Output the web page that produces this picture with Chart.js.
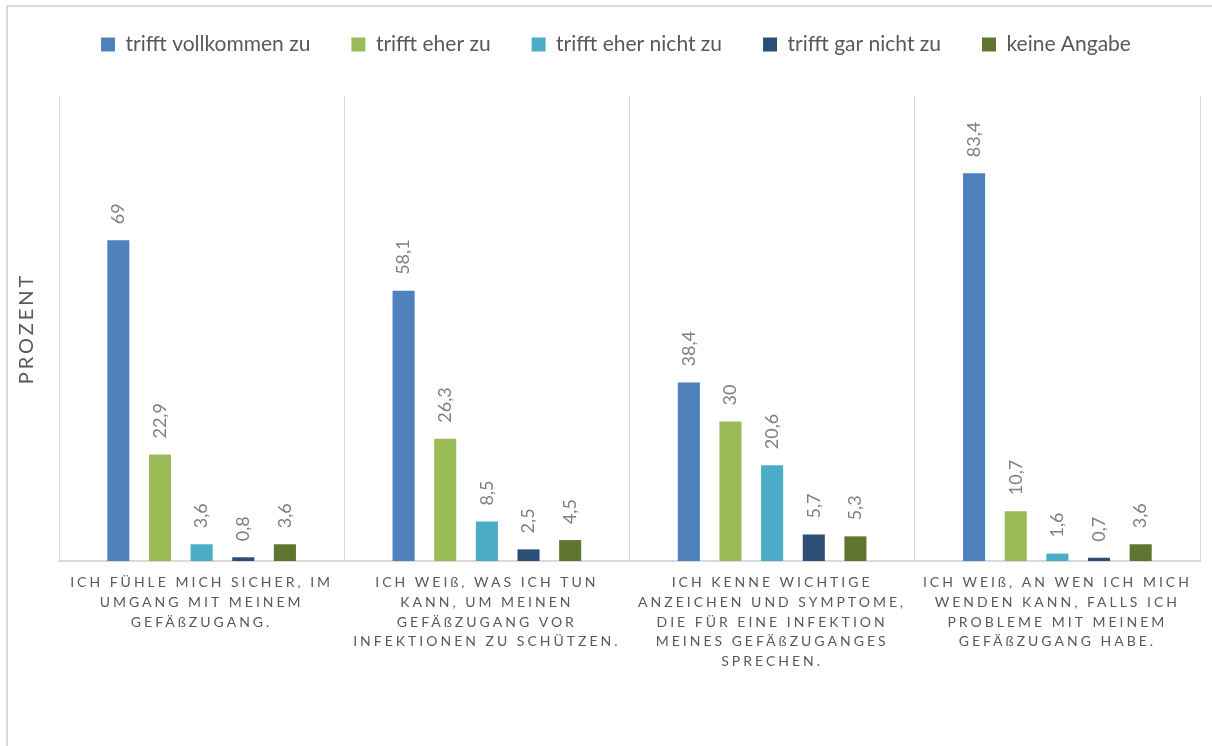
<!DOCTYPE html>
<html>
<head>
<meta charset="utf-8">
<script src="https://cdn.jsdelivr.net/npm/chart.js@4.4.1/dist/chart.umd.min.js"></script>
<style>
    html, body { margin: 0; padding: 0; background: #fff; overflow: hidden; }
    #wrap { position: relative; width: 1212px; height: 746px; }
    #rahmen { position: absolute; left: 6px; top: 5px; width: 1240px; height: 780px;
              border-left: 2px solid #d9d9d9; border-top: 2px solid #d9d9d9; pointer-events: none; }
</style>
</head>
<body>
<div id="wrap">
    <canvas id="graficoGefaess" width="1212" height="746"></canvas>
    <div id="rahmen"></div>
</div>
<script>
// Kategorien (Aussagen), als Zeilen wie in der Vorlage umbrochen
const kategorien = [
    ['ICH FÜHLE MICH SICHER, IM', 'UMGANG MIT MEINEM', 'GEFÄßZUGANG.'],
    ['ICH WEIß, WAS ICH TUN', 'KANN, UM MEINEN', 'GEFÄßZUGANG VOR', 'INFEKTIONEN ZU SCHÜTZEN.'],
    ['ICH KENNE WICHTIGE', 'ANZEICHEN UND SYMPTOME,', 'DIE FÜR EINE INFEKTION', 'MEINES GEFÄßZUGANGES', 'SPRECHEN.'],
    ['ICH WEIß, AN WEN ICH MICH', 'WENDEN KANN, FALLS ICH', 'PROBLEME MIT MEINEM', 'GEFÄßZUGANG HABE.']
];

const serienNamen = ['trifft vollkommen zu', 'trifft eher zu', 'trifft eher nicht zu', 'trifft gar nicht zu', 'keine Angabe'];

// Prozentwerte je Antwort
const trifftVollkommen = [69, 58.1, 38.4, 83.4];
const trifftEher       = [22.9, 26.3, 30, 10.7];
const trifftEherNicht  = [3.6, 8.5, 20.6, 1.6];
const trifftGarNicht   = [0.8, 2.5, 5.7, 0.7];
const keineAngabe      = [3.6, 4.5, 5.3, 3.6];

const farben = ['#4f81bd', '#9bbb59', '#4bacc6', '#2c4d75', '#5f7530'];

const werte = [trifftVollkommen, trifftEher, trifftEherNicht, trifftGarNicht, keineAngabe];

// Sperrschrift fuer Achsenbeschriftungen (canvas letterSpacing)
const sperrschrift = {
    id: 'sperrschrift',
    beforeDraw(chart) {
        const abstaende = { x: '3px', y: '3px' };
        Object.keys(abstaende).forEach(function (id) {
            const s = chart.scales[id];
            if (!s || s._gesperrt) return;
            const labelsOrig = s.drawLabels;
            const titelOrig = s.drawTitle;
            s.drawLabels = function (area) {
                this.ctx.save();
                this.ctx.letterSpacing = abstaende[id];
                labelsOrig.call(this, area);
                this.ctx.restore();
            };
            s.drawTitle = function (area) {
                this.ctx.save();
                this.ctx.letterSpacing = abstaende[id];
                titelOrig.call(this, area);
                this.ctx.restore();
            };
            s._gesperrt = true;
        });
    }
};

// Werte senkrecht ueber den Balken
const wertBeschriftung = {
    id: 'wertBeschriftung',
    afterDatasetsDraw(chart) {
        const ctx = chart.ctx;
        ctx.save();
        ctx.font = '18px Lato';
        ctx.fillStyle = '#7f7f7f';
        ctx.textAlign = 'left';
        ctx.textBaseline = 'middle';
        chart.data.datasets.forEach(function (ds, i) {
            chart.getDatasetMeta(i).data.forEach(function (bar, j) {
                const text = String(ds.data[j]).replace('.', ',');
                ctx.save();
                ctx.translate(bar.x, bar.y - 16);
                ctx.rotate(-Math.PI / 2);
                ctx.fillText(text, 0, 0);
                ctx.restore();
            });
        });
        ctx.restore();
    }
};

// Platz unter der Legende, Legende etwas hoeher und leicht nach rechts
const legendenAbstand = {
    id: 'legendenAbstand',
    beforeInit(chart) {
        const fitOrig = chart.legend.fit;
        chart.legend.fit = function () {
            fitOrig.call(this);
            this.height += 20;
        };
    },
    afterLayout(chart) {
        const lg = chart.legend;
        lg.left += 14;
        lg.right += 14;
        lg.top -= 11;
        lg.bottom -= 11;
    }
};

function criarGrafico(canvasID) {
    const ctx = document.getElementById(canvasID).getContext('2d');

    new Chart(ctx, {
        type: 'bar',
        data: {
            labels: kategorien,
            datasets: serienNamen.map(function (name, i) {
                return {
                    label: name,
                    data: werte[i],
                    backgroundColor: farben[i],
                    borderWidth: 0,
                    categoryPercentage: 0.73,
                    barPercentage: 0.53
                };
            })
        },
        options: {
            responsive: false,
            animation: false,
            layout: {
                padding: { top: 4, left: 4, right: 12, bottom: 63 }
            },
            scales: {
                x: {
                    grid: { display: true, offset: true, color: '#d9d9d9', lineWidth: 1, drawTicks: false },
                    border: { display: true, color: '#d9d9d9', width: 2 },
                    ticks: {
                        color: '#595959',
                        font: { family: 'Lato', size: 14, lineHeight: 1.4 },
                        padding: 12,
                        maxRotation: 0,
                        autoSkip: false
                    }
                },
                y: {
                    min: 0,
                    max: 100,
                    grid: { display: false, drawTicks: false },
                    border: { display: false },
                    ticks: { display: false },
                    title: {
                        display: true,
                        text: 'PROZENT',
                        color: '#595959',
                        font: { family: 'Lato', size: 20, lineHeight: 1.2 },
                        padding: { top: 11, bottom: 20 }
                    }
                }
            },
            plugins: {
                legend: {
                    position: 'top',
                    labels: {
                        color: '#595959',
                        font: { family: 'Lato', size: 21 },
                        boxWidth: 14,
                        boxHeight: 14,
                        padding: 41
                    }
                },
                tooltip: { enabled: false }
            }
        },
        plugins: [sperrschrift, wertBeschriftung, legendenAbstand]
    });
}

criarGrafico('graficoGefaess');
</script>
</body>
</html>
